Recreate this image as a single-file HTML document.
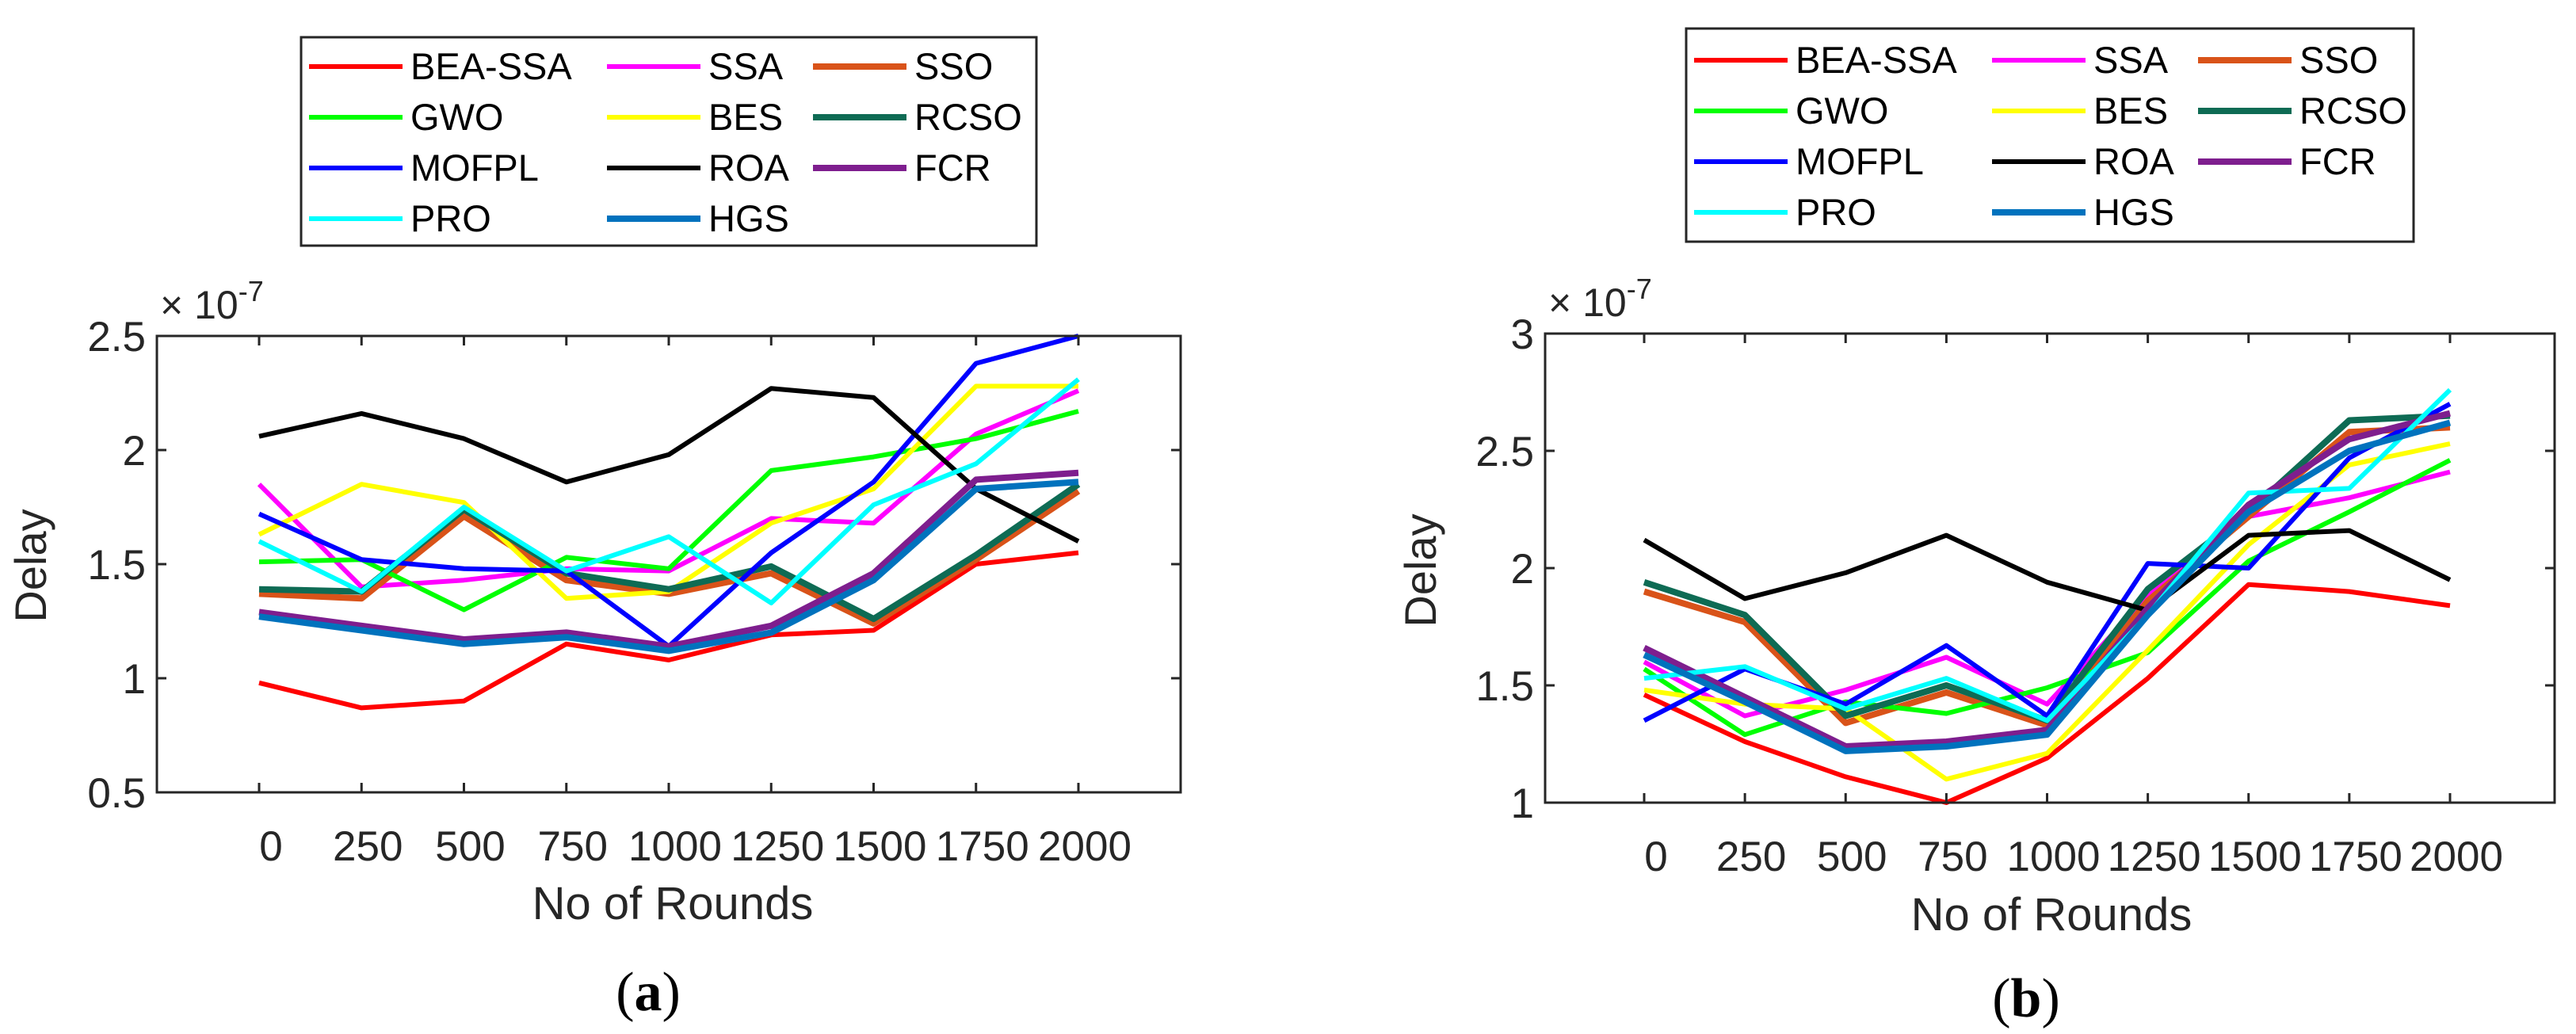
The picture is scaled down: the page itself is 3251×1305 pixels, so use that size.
<!DOCTYPE html>
<html><head><meta charset="utf-8"><style>
html,body{margin:0;padding:0;background:#fff;}
svg{display:block;font-family:"Liberation Sans",sans-serif;}
</style></head><body>
<svg id="fig" width="3251" height="1305" viewBox="0 0 3251 1305" xmlns="http://www.w3.org/2000/svg"></svg>
<script>
const names = ["BEA-SSA","SSA","SSO","GWO","BES","RCSO","MOFPL","ROA","FCR","PRO","HGS"];
const colors = ["#ff0000","#ff00ff","#d95319","#00ff00","#ffff00","#0e6b54","#0000ff","#000000","#7e1e8e","#00ffff","#0072bd"];
const widths = [6,6,8,6,6,8,6,6,8,6,8];
const rounds = [0,250,500,750,1000,1250,1500,1750,2000];
const aBEA = [0.98,0.87,0.90,1.15,1.08,1.19,1.21,1.50,1.55];
const aSSA = [1.85,1.40,1.43,1.48,1.47,1.70,1.68,2.07,2.26];
const aSSO = [1.37,1.35,1.71,1.43,1.37,1.46,1.24,1.52,1.82];
const aGWO = [1.51,1.52,1.30,1.53,1.48,1.91,1.97,2.05,2.17];
const aBES = [1.63,1.85,1.77,1.35,1.38,1.68,1.83,2.28,2.28];
const aRCSO = [1.39,1.38,1.74,1.46,1.39,1.49,1.26,1.54,1.85];
const aMOFPL = [1.72,1.52,1.48,1.47,1.14,1.55,1.86,2.38,2.50];
const aROA = [2.06,2.16,2.05,1.86,1.98,2.27,2.23,1.83,1.60];
const aFCR = [1.29,1.23,1.17,1.20,1.14,1.23,1.46,1.87,1.90];
const aPRO = [1.60,1.38,1.75,1.47,1.62,1.33,1.76,1.94,2.31];
const aHGS = [1.27,1.21,1.15,1.18,1.12,1.20,1.43,1.83,1.86];
const bBEA = [1.46,1.26,1.11,1.00,1.19,1.53,1.93,1.90,1.84];
const bSSA = [1.60,1.37,1.48,1.62,1.42,1.88,2.22,2.30,2.41];
const bSSO = [1.90,1.77,1.34,1.47,1.33,1.86,2.22,2.58,2.60];
const bGWO = [1.57,1.29,1.43,1.38,1.49,1.64,2.03,2.24,2.46];
const bBES = [1.48,1.42,1.40,1.10,1.21,1.65,2.10,2.44,2.53];
const bRCSO = [1.94,1.80,1.37,1.50,1.35,1.91,2.24,2.63,2.65];
const bMOFPL = [1.35,1.57,1.42,1.67,1.37,2.02,2.00,2.47,2.70];
const bROA = [2.12,1.87,1.98,2.14,1.94,1.82,2.14,2.16,1.95];
const bFCR = [1.66,1.45,1.24,1.26,1.31,1.83,2.27,2.55,2.66];
const bPRO = [1.53,1.58,1.40,1.53,1.35,1.80,2.32,2.34,2.76];
const bHGS = [1.63,1.43,1.22,1.24,1.29,1.80,2.24,2.50,2.62];
const aTicks = [0.5,1,1.5,2,2.5];
const aTickLabels = ["0.5","1","1.5","2","2.5"];
const bTicks = [1,1.5,2,2.5,3];
const bTickLabels = ["1","1.5","2","2.5","3"];

const NS="http://www.w3.org/2000/svg";
const svg=document.getElementById('fig');
function mk(tag,attrs,parent){const e=document.createElementNS(NS,tag);for(const k in attrs)e.setAttribute(k,attrs[k]);(parent||svg).appendChild(e);return e;}

function drawPanel(p){
  const g=mk('g',{});
  
  
  const xs=v=>p.x0+(v-rounds[0])/(rounds[rounds.length-1]-rounds[0])*(p.x1-p.x0);
  const ys=v=>p.bottom-(v-p.ymin)/(p.ymax-p.ymin)*(p.bottom-p.top);
  p.series.forEach((s,i)=>{
    const pts=s.map((v,j)=>xs(rounds[j]).toFixed(1)+','+ys(v).toFixed(1)).join(' ');
    const pl=mk('polyline',{points:pts,fill:'none',stroke:colors[i],'stroke-width':widths[i],'stroke-linejoin':'round'},g);
    
    
  });
  const box=mk('rect',{x:p.left,y:p.top,width:p.right-p.left,height:p.bottom-p.top,fill:'none',stroke:'#262626','stroke-width':3},g);
  
  
  p.ticks.forEach((t,i)=>{
    const y=ys(t);
    mk('line',{x1:p.left,x2:p.left+12,y1:y,y2:y,stroke:'#262626','stroke-width':3},g);
    mk('line',{x1:p.right,x2:p.right-12,y1:y,y2:y,stroke:'#262626','stroke-width':3},g);
    const tx=mk('text',{x:p.left-14,y:y+19,'text-anchor':'end','font-size':53,fill:'#262626'},g);
    tx.textContent=p.tickLabels[i];
    
    
  });
  rounds.forEach(r=>{
    const x=xs(r);
    mk('line',{x1:x,x2:x,y1:p.bottom,y2:p.bottom-12,stroke:'#262626','stroke-width':3},g);
    mk('line',{x1:x,x2:x,y1:p.top,y2:p.top+12,stroke:'#262626','stroke-width':3},g);
    const tx=mk('text',{x:x+(r===0?15:8),y:p.bottom+86,'text-anchor':'middle','font-size':53,fill:'#262626'},g);
    tx.textContent=String(r);
    
    
  });
  const ex=mk('text',{x:p.left+4,y:p.top-22,'font-size':50,fill:'#262626'},g);
  ex.innerHTML='× 10<tspan dy="-22" font-size="36">-7</tspan>';
  
  
  const yt=mk('text',{x:p.ytx,y:p.yty,'text-anchor':'middle','font-size':56,fill:'#262626',transform:'rotate(-90 '+p.ytx+' '+p.yty+')'},g);
  yt.textContent='Delay';
  
  
  const xt=mk('text',{x:p.xtx,y:p.xty,'text-anchor':'middle','font-size':58,fill:'#262626'},g);
  xt.textContent='No of Rounds';
  
  
  const cap=mk('text',{x:p.capx,y:p.capy,'text-anchor':'middle','font-size':70,fill:'#000','font-family':'Liberation Serif, serif'},g);
  cap.innerHTML='(<tspan font-weight="bold">'+p.letter+'</tspan>)';
  
  
  const lg=mk('g',{},g);
  
  
  mk('rect',{x:p.lgx,y:p.lgy,width:p.lgw,height:p.lgh,fill:'#fff',stroke:'#262626','stroke-width':3},lg);
  const colOff=[10,386,646];
  names.forEach((n,i)=>{
    const r=Math.floor(i/3),c=i%3;
    const y=p.lgy+p.row0+r*p.rowH;
    const lx=p.lgx+colOff[c];
    const e=mk('g',{},lg);
    
    
    mk('line',{x1:lx,x2:lx+118,y1:y,y2:y,stroke:colors[i],'stroke-width':widths[i]},e);
    const t=mk('text',{x:lx+128,y:y+16,'font-size':47,fill:'#000'},e);
    t.textContent=n;
  });
}

drawPanel({id:'panel-a',letter:'a',left:198,right:1490,top:424,bottom:1000,x0:327,x1:1361,ymin:0.5,ymax:2.5,
  ticks:aTicks,tickLabels:aTickLabels,series:[aBEA,aSSA,aSSO,aGWO,aBES,aRCSO,aMOFPL,aROA,aFCR,aPRO,aHGS],
  ytx:58,yty:714,xtx:849,xty:1160,capx:818,capy:1275,lgx:380,lgy:47,lgw:928,lgh:263,row0:37,rowH:64});
drawPanel({id:'panel-b',letter:'b',left:1950,right:3224,top:421,bottom:1013,x0:2075,x1:3092,ymin:1,ymax:3,
  ticks:bTicks,tickLabels:bTickLabels,series:[bBEA,bSSA,bSSO,bGWO,bBES,bRCSO,bMOFPL,bROA,bFCR,bPRO,bHGS],
  ytx:1812,yty:720,xtx:2589,xty:1174,capx:2557,capy:1283,lgx:2128,lgy:36,lgw:918,lgh:269,row0:40,rowH:64});
</script>
</body></html>
